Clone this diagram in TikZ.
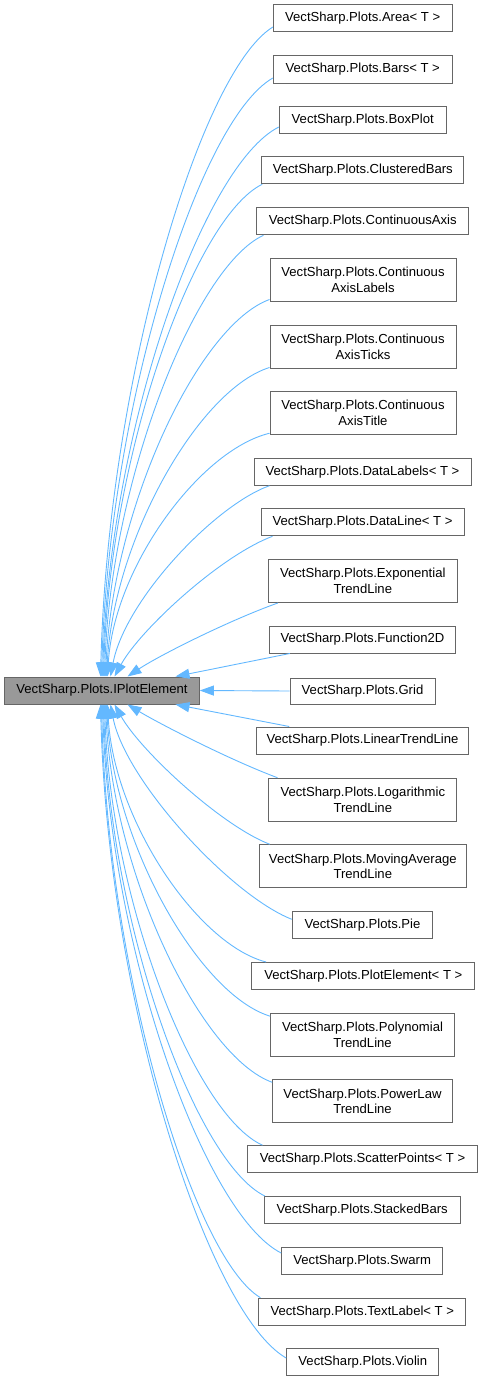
\documentclass[tikz,border=0pt]{standalone}
\usepackage{fontspec}
\setmainfont{Liberation Sans}
\usetikzlibrary{arrows.meta,calc}
\definecolor{edgec}{HTML}{63B8FF}
\definecolor{boxline}{HTML}{666666}
\definecolor{rootfill}{HTML}{999999}
\begin{document}
\begin{tikzpicture}[x=1pt,y=-1pt,
  box/.style={draw=boxline,fill=white,line width=1pt,inner sep=0pt,minimum height=27pt,align=center,
    font=\fontsize{13.1}{15.7}\selectfont},
  box2/.style={box,minimum height=43pt},
  rootbox/.style={box,fill=rootfill},
  edge/.style={draw=edgec,line width=0.9pt,-{Triangle[length=14pt,width=10pt]}}]
\useasboundingbox (0,0) rectangle (483,1381);
% nodes
\node[box,minimum width=178.7pt] (area) at (362.7,18.5) {VectSharp.Plots.Area< T >};
\node[box,minimum width=178.7pt] (bars) at (362.7,69.5) {VectSharp.Plots.Bars< T >};
\node[box,minimum width=166.7pt] (boxplot) at (362.7,120) {VectSharp.Plots.BoxPlot};
\node[box,minimum width=202.3pt] (clustered) at (362.8,170.3) {VectSharp.Plots.ClusteredBars};
\node[box,minimum width=212pt] (contaxis) at (362.7,221.3) {VectSharp.Plots.ContinuousAxis};
\node[box2,minimum width=186pt] (axislabels) at (363,279.5) {VectSharp.Plots.Continuous\\AxisLabels};
\node[box2,minimum width=186pt] (axisticks) at (363,346.5) {VectSharp.Plots.Continuous\\AxisTicks};
\node[box2,minimum width=186pt,minimum height=42.5pt] (axistitle) at (363,413) {VectSharp.Plots.Continuous\\AxisTitle};
\node[box,minimum width=217pt] (datalabels) at (362.5,471.7) {VectSharp.Plots.DataLabels< T >};
\node[box,minimum width=203pt] (dataline) at (362.5,522.3) {VectSharp.Plots.DataLine< T >};
\node[box2,minimum width=189pt] (expo) at (362.8,581) {VectSharp.Plots.Exponential\\TrendLine};
\node[box,minimum width=186.4pt] (func2d) at (362.5,639.5) {VectSharp.Plots.Function2D};
\node[rootbox,minimum width=194.6pt] (ipe) at (102,690.5) {VectSharp.Plots.IPlotElement};
\node[box,minimum width=145pt,minimum height=26pt] (grid) at (362.5,691) {VectSharp.Plots.Grid};
\node[box,minimum width=211.6pt] (linear) at (362.5,740.5) {VectSharp.Plots.LinearTrendLine};
\node[box2,minimum width=187.7pt] (logtl) at (362.8,799.7) {VectSharp.Plots.Logarithmic\\TrendLine};
\node[box2,minimum width=207pt] (movavg) at (362.8,866.3) {VectSharp.Plots.MovingAverage\\TrendLine};
\node[box,minimum width=140.4pt] (pie) at (362.5,925.3) {VectSharp.Plots.Pie};
\node[box,minimum width=223.3pt] (plotel) at (363.3,976) {VectSharp.Plots.PlotElement< T >};
\node[box2,minimum width=183.6pt] (poly) at (362.5,1034.7) {VectSharp.Plots.Polynomial\\TrendLine};
\node[box2,minimum width=179.6pt] (power) at (362.5,1101.3) {VectSharp.Plots.PowerLaw\\TrendLine};
\node[box,minimum width=230.4pt] (scatter) at (362.5,1159.2) {VectSharp.Plots.ScatterPoints< T >};
\node[box,minimum width=195.7pt] (stacked) at (362.2,1210) {VectSharp.Plots.StackedBars};
\node[box,minimum width=161pt] (swarm) at (362.2,1260.7) {VectSharp.Plots.Swarm};
\node[box,minimum width=206.7pt] (textlabel) at (362.3,1311.7) {VectSharp.Plots.TextLabel< T >};
\node[box,minimum width=152.3pt] (violin) at (362.8,1362.3) {VectSharp.Plots.Violin};
% edges, upper group
\draw[edge] ($(area.west)+(0,8.5)$) .. controls (200,72) and (108,382) .. ($(ipe.north west)+(96.3,0)$);
\draw[edge] ($(bars.west)+(0,8.5)$) .. controls (199,120) and (109,407) .. ($(ipe.north west)+(97.3,0)$);
\draw[edge] ($(boxplot.west)+(0,7)$) .. controls (203,165) and (110,429) .. ($(ipe.north west)+(98.3,0)$);
\draw[edge] ($(clustered.south west)+(1,0)$) .. controls (194,218) and (110,454) .. ($(ipe.north west)+(99.3,0)$);
\draw[edge] ($(contaxis.south west)+(7.3,0)$) .. controls (196,266) and (111,478) .. ($(ipe.north west)+(100.3,0)$);
\draw[edge] ($(axislabels.south west)+(0,-2)$) .. controls (199,325) and (113,506) .. ($(ipe.north west)+(101.3,0)$);
\draw[edge] ($(axisticks.south west)+(0,-1)$) .. controls (200,389) and (114,537) .. ($(ipe.north west)+(102.3,0)$);
\draw[edge] ($(axistitle.south west)+(0,-1.5)$) .. controls (200,450) and (114,567) .. ($(ipe.north west)+(103.3,0)$);
\draw[edge] ($(datalabels.south west)+(16,0)$) .. controls (215,505) and (125,600) .. ($(ipe.north west)+(106.3,0)$);
\draw[edge] ($(dataline.south west)+(12,0)$) .. controls (220,556) and (140,630) .. ($(ipe.north west)+(110.3,0)$);
\draw[edge] ($(expo.south west)+(10,0)$) .. controls (230,620) and (160,655) .. ($(ipe.north west)+(123.3,0)$);
\draw[edge] ($(func2d.south west)+(21,0)$) -- ($(ipe.north west)+(171.3,0)$);
\draw[edge] (grid.west) -- (ipe.east);
% edges, lower group
\draw[edge] ($(linear.north west)+(33,0)$) -- ($(ipe.south west)+(171.3,0)$);
\draw[edge] ($(logtl.north west)+(9,0)$) .. controls (230,760) and (160,724) .. ($(ipe.south west)+(123.3,0)$);
\draw[edge] ($(movavg.north west)+(11,0)$) .. controls (220,825) and (140,750) .. ($(ipe.south west)+(110.3,0)$);
\draw[edge] ($(pie.west)+(0,-6)$) .. controls (230,895) and (125,780) .. ($(ipe.south west)+(106.3,0)$);
\draw[edge] ($(plotel.north west)+(15,0)$) .. controls (198,944.6) and (114,820.8) .. ($(ipe.south west)+(103.3,0)$);
\draw[edge] ($(poly.north west)+(0,3.5)$) .. controls (200,995) and (114,845) .. ($(ipe.south west)+(102.3,0)$);
\draw[edge] ($(power.north west)+(0,3)$) .. controls (201,1056.5) and (113,875) .. ($(ipe.south west)+(101.3,0)$);
\draw[edge] ($(scatter.north west)+(15.7,0)$) .. controls (195,1114.8) and (111,903) .. ($(ipe.south west)+(100.3,0)$);
\draw[edge] ($(stacked.north west)+(1,0)$) .. controls (196,1162.6) and (110,926) .. ($(ipe.south west)+(99.3,0)$);
\draw[edge] ($(swarm.west)+(0,-7.7)$) .. controls (205,1214.6) and (110,951.6) .. ($(ipe.south west)+(98.3,0)$);
\draw[edge] ($(textlabel.north west)+(2,0)$) .. controls (192.6,1257) and (108,972) .. ($(ipe.south west)+(97.3,0)$);
\draw[edge] ($(violin.west)+(0,-4.3)$) .. controls (206.8,1312) and (108,999) .. ($(ipe.south west)+(96.3,0)$);
\end{tikzpicture}
\end{document}
